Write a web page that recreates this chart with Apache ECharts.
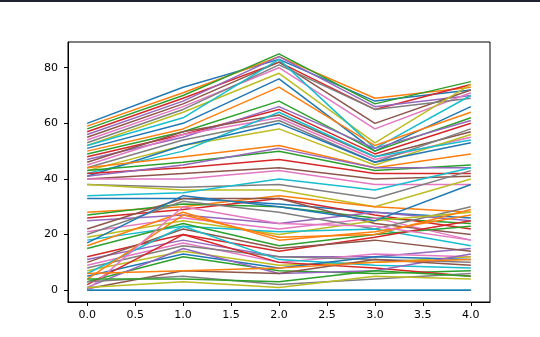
<!DOCTYPE html>
<html>
<head>
<meta charset="utf-8">
<script src="https://cdn.jsdelivr.net/npm/echarts@6/dist/echarts.min.js"></script>
<style>
  html, body { margin: 0; padding: 0; background: #fff; }
  #chart { width: 540px; height: 337px; }
</style>
</head>
<body>
<div id="chart"></div>
<script>
// x positions shared by every line
const xPositions = [0, 1, 2, 3, 4];
const xTicks = [0, 0.5, 1, 1.5, 2, 2.5, 3, 3.5, 4];
const yTicks = [0, 20, 40, 60, 80];

// one row of values per line, in plotting order
const lineValues = [
  [60, 73, 83, 68, 72],
  [59, 71, 84, 69, 73],
  [58, 70, 85, 67, 75],
  [57, 69, 82, 65, 74],
  [56, 68, 84, 66, 70],
  [55, 67, 82, 60, 72],
  [54, 66, 80, 58, 71],
  [53, 65, 81, 65, 69],
  [52, 64, 78, 53, 74],
  [52, 62, 83, 51, 70],
  [51, 60, 76, 50, 66],
  [50, 58, 73, 52, 64],
  [49, 57, 68, 50, 62],
  [48, 56, 65, 49, 60],
  [47, 55, 66, 51, 61],
  [46, 57, 63, 48, 57],
  [45, 56, 62, 47, 55],
  [44, 54, 61, 46, 58],
  [43, 52, 58, 45, 56],
  [42, 50, 64, 48, 54],
  [41, 52, 60, 46, 53],
  [44, 48, 52, 44, 49],
  [43, 46, 50, 43, 45],
  [42, 44, 47, 42, 42],
  [41, 45, 51, 44, 44],
  [40, 42, 44, 40, 41],
  [40, 40, 43, 38, 38],
  [38, 37, 38, 33, 43],
  [38, 36, 36, 30, 40],
  [34, 35, 40, 36, 44],
  [33, 33, 31, 28, 26],
  [28, 30, 34, 30, 28],
  [27, 31, 30, 26, 24],
  [26, 29, 33, 27, 22],
  [25, 27, 24, 28, 25],
  [22, 33, 33, 24, 20],
  [21, 26, 22, 26, 18],
  [20, 32, 28, 22, 30],
  [19, 25, 20, 25, 28],
  [18, 23, 21, 22, 16],
  [17, 34, 30, 25, 38],
  [16, 28, 18, 21, 27],
  [15, 24, 16, 20, 23],
  [12, 20, 14, 19, 25],
  [11, 18, 12, 12, 15],
  [10, 22, 15, 18, 14],
  [9, 17, 10, 13, 12],
  [8, 16, 12, 11, 10],
  [7, 14, 9, 10, 12],
  [6, 23, 11, 9, 8],
  [5, 13, 8, 12, 11],
  [4, 27, 19, 20, 29],
  [3, 12, 7, 6, 7],
  [2, 20, 10, 8, 5],
  [1, 15, 6, 7, 13],
  [0.5, 7, 6, 11, 9],
  [0, 30, 24, 23, 18],
  [3, 5, 2, 4, 6],
  [1, 3, 1, 5, 4],
  [0, 0, 0, 0, 0],
  [0, 0, 0, 0, 0],
  [6, 7, 8, 10, 11],
  [4, 4, 3, 7, 5]
];

const palette = ['#1f77b4', '#ff7f0e', '#2ca02c', '#d62728', '#9467bd',
                 '#8c564b', '#e377c2', '#7f7f7f', '#bcbd22', '#17becf'];

const chart = echarts.init(document.getElementById('chart'), null, { renderer: 'canvas' });

const series = lineValues.map((vals, i) => ({
  type: 'line',
  data: vals.map((v, j) => [xPositions[j], v]),
  showSymbol: false,
  symbol: 'none',
  lineStyle: { width: 1.5, color: palette[i % palette.length] },
  silent: true,
  z: 2
}));

const axisText = { color: '#000', fontFamily: 'DejaVu Sans', fontSize: 11 };

chart.setOption({
  animation: false,
  backgroundColor: '#fff',
  grid: {
    left: 68, right: 50, top: 42, bottom: 35,
    show: true, borderColor: '#000', borderWidth: 1, backgroundColor: 'transparent'
  },
  xAxis: {
    type: 'value', min: -0.2, max: 4.2,
    axisLine: { show: true, onZero: false, lineStyle: { color: '#000', width: 1 } },
    axisTick: { show: true, inside: false, length: 4, lineStyle: { color: '#000' }, customValues: xTicks },
    axisLabel: Object.assign({ margin: 8, customValues: xTicks,
      formatter: v => Number(v).toFixed(1) }, axisText),
    splitLine: { show: false }
  },
  yAxis: {
    type: 'value', min: -4.25, max: 89.25,
    axisLine: { show: true, onZero: false, lineStyle: { color: '#000', width: 1 } },
    axisTick: { show: true, inside: false, length: 4, lineStyle: { color: '#000' }, customValues: yTicks },
    axisLabel: Object.assign({ margin: 10, customValues: yTicks,
      formatter: v => String(Math.round(v)) }, axisText),
    splitLine: { show: false }
  },
  graphic: [{
    type: 'rect', left: 0, top: 0,
    shape: { width: 540, height: 2 },
    style: { fill: '#1e2233' }, z: 100
  }],
  series
});
</script>
</body>
</html>
